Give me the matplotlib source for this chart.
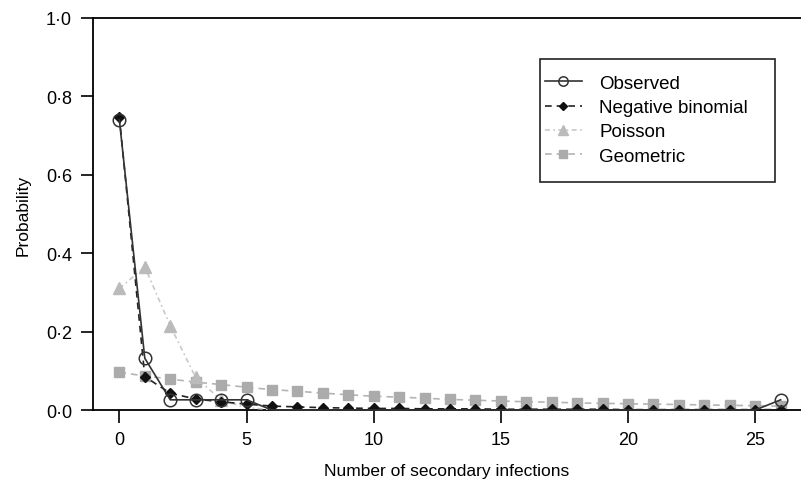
import matplotlib
matplotlib.use("Agg")
import matplotlib.pyplot as plt
from matplotlib.patches import Rectangle
from matplotlib.ticker import FuncFormatter

plt.rcParams['font.family'] = ['Liberation Sans', 'DejaVu Sans']

x = list(range(27))
observed = [0.74, 0.132, 0.026, 0.026, 0.026, 0.026] + [0.0] * 20 + [0.026]
neg_binomial = [0.748, 0.085, 0.043, 0.028, 0.021, 0.015, 0.010, 0.008, 0.006, 0.005,
                0.004, 0.004, 0.003, 0.003, 0.003, 0.002, 0.002, 0.002, 0.002, 0.002,
                0.001, 0.001, 0.001, 0.001, 0.001, 0.001, 0.001]
poisson_x = [0, 1, 2, 3, 4, 5, 6]
poisson = [0.31, 0.365, 0.215, 0.083, 0.026, 0.006, 0.001]
geometric = [0.096, 0.087, 0.079, 0.071, 0.065, 0.058, 0.052, 0.048, 0.043, 0.039,
             0.035, 0.033, 0.030, 0.027, 0.025, 0.023, 0.021, 0.020, 0.018, 0.017,
             0.016, 0.015, 0.014, 0.013, 0.012, 0.011, 0.010]

obs_markers = [i for i, v in enumerate(observed) if v > 0]

fig = plt.figure(figsize=(8.01, 4.81), dpi=100)
ax = fig.add_axes([0.116, 0.1455, 0.884, 0.815])

ax.plot(x, geometric, linestyle=(0, (4, 3)), color='#b4b4b4', lw=1.2,
        marker='s', ms=7, mfc='#ababab', mec='#ababab', label='Geometric', zorder=2)
ax.plot(poisson_x, poisson, linestyle=(0, (3, 2, 1, 2)), color='#c8c8c8', lw=1.2,
        marker='^', ms=9, mfc='#bbbbbb', mec='#bbbbbb', markevery=[0, 1, 2, 3, 4],
        label='Poisson', zorder=3)
ax.plot(x, neg_binomial, linestyle=(0, (4, 3)), color='#222222', lw=1.2,
        marker='D', ms=5, mfc='#111111', mec='#111111', label='Negative binomial', zorder=4)
ax.plot(x, observed, linestyle='-', color='#333333', lw=1.2,
        marker='o', ms=9, mfc='none', mec='#333333', mew=1.1, markevery=obs_markers,
        label='Observed', zorder=5, clip_on=False)

ax.set_xlim(-1.04, 26.8)
ax.set_ylim(0, 1.0)
ax.set_xticks([0, 5, 10, 15, 20, 25])
ax.set_yticks([0, 0.2, 0.4, 0.6, 0.8, 1.0])
ax.yaxis.set_major_formatter(FuncFormatter(lambda v, p: f"{v:.1f}".replace('.', '\u00b7')))
ax.tick_params(direction='out', length=9, width=1.2, labelsize=13, pad=6)
for s in ['left', 'bottom', 'top']:
    ax.spines[s].set_linewidth(1.3)
ax.spines['right'].set_visible(False)

ax.set_xlabel('Number of secondary infections', fontsize=12.5, labelpad=11)
ax.set_ylabel('Probability', fontsize=12.5, labelpad=11)

# legend box
ax.add_patch(Rectangle((0.631, 0.5816), 0.332, 0.3138, transform=ax.transAxes,
                       fill=True, facecolor='white', edgecolor='#222222', lw=1.2, zorder=9))

handles, labels = ax.get_legend_handles_labels()
order = [3, 2, 1, 0]
leg = ax.legend([handles[i] for i in order], [labels[i] for i in order],
                loc='upper left', bbox_to_anchor=(0.638, 0.855), fontsize=13.5,
                frameon=False, handlelength=2.0, labelspacing=0.38, borderpad=0.0,
                handletextpad=0.9, borderaxespad=0, markerscale=0.75)
leg.set_zorder(10)

fig.savefig('out.png', dpi=100)
